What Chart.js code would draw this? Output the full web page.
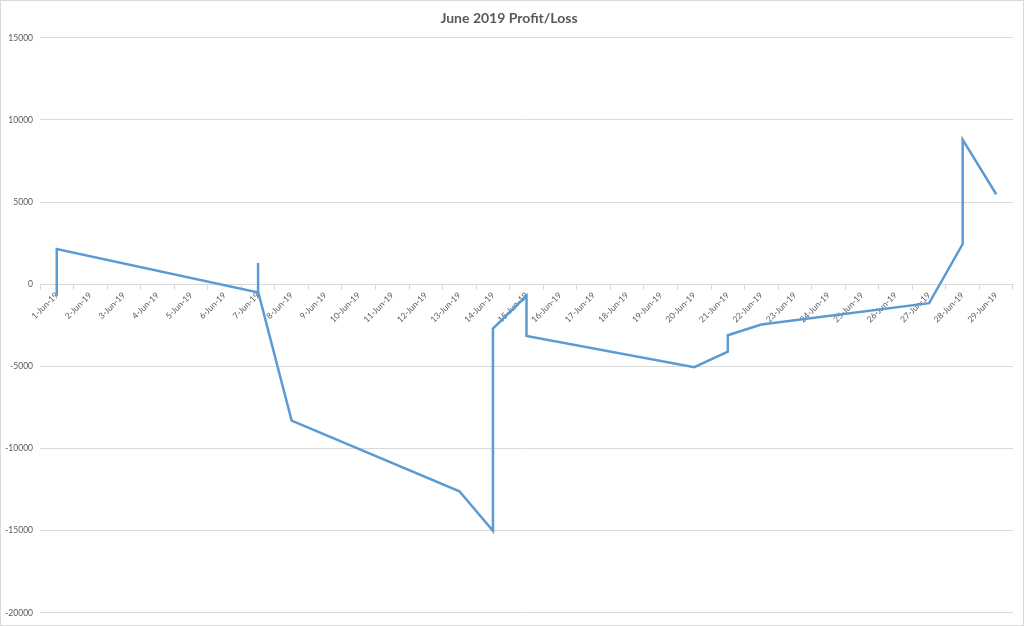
<!DOCTYPE html>
<html>
<head>
<meta charset="utf-8">
<script src="https://cdn.jsdelivr.net/npm/chart.js@4"></script>
<style>
    html, body {margin: 0; padding: 0; background: #fff;}
    #wrap {width: 1024px; height: 626px; box-sizing: border-box; border: 1px solid #D9D9D9; position: relative;}
    canvas {display: block;}
</style>
</head>
<body>
<div id="wrap"><canvas id="chart" width="1022" height="624"></canvas></div>
<script>
// one category per day of June
const days = []
for (let d = 1; d <= 29; d++) days.push(d + "-Jun-19")

// running profit/loss, several entries can share one day
const pointDays = [1, 1, 7, 7, 7, 8, 13, 14, 14, 15, 15, 20, 21, 21, 22, 27, 28, 28, 29]
const pointValues = [-700, 2150, -500, 1300, -450, -8300, -12600, -15000, -2700, -700, -3150, -5050, -4100, -3100, -2450, -1150, 2450, 8800, 5480]

const yTicks = [-20000, -15000, -10000, -5000, 0, 5000, 10000, 15000]

const points = pointDays.map((d, i) => ({x: days[d - 1], y: pointValues[i]}))

const textColor = "#595959"
const gridColor = "#D9D9D9"

new Chart(document.getElementById("chart"), {
    type: "line",
    data: {
        labels: days,
        datasets: [{
            label: "Profit/Loss",
            data: points,
            borderColor: "#5B9BD5",
            borderWidth: 2.5,
            pointRadius: 0,
            tension: 0,
            fill: false,
        }]
    },
    options: {
        responsive: false,
        animation: false,
        layout: {padding: {top: 0, right: 10, bottom: 6, left: 4}},
        plugins: {
            legend: {display: false},
            tooltip: {enabled: false},
            title: {
                display: true,
                text: "June 2019 Profit/Loss",
                color: textColor,
                font: {family: "Lato", size: 14, weight: "bold"},
                padding: {top: 9, bottom: 11},
            },
        },
        scales: {
            x: {
                type: "category",
                position: {y: 0},
                offset: true,
                grid: {
                    offset: true,
                    drawOnChartArea: false,
                    drawTicks: true,
                    tickLength: 5,
                    color: gridColor,
                },
                border: {display: true, color: gridColor},
                ticks: {
                    color: textColor,
                    font: {family: "Lato", size: 8.5},
                    minRotation: 45,
                    maxRotation: 45,
                    autoSkip: false,
                    padding: 1,
                },
            },
            y: {
                min: -20000,
                max: 15000,
                afterBuildTicks: axis => { axis.ticks = yTicks.map(v => ({value: v})) },
                afterFit: axis => { axis.width = 35 },
                grid: {color: gridColor, drawTicks: false},
                border: {display: false},
                ticks: {
                    color: textColor,
                    font: {family: "Lato", size: 8.5},
                    padding: 7,
                    callback: v => String(v),
                },
            },
        },
    },
})
</script>
</body>
</html>
